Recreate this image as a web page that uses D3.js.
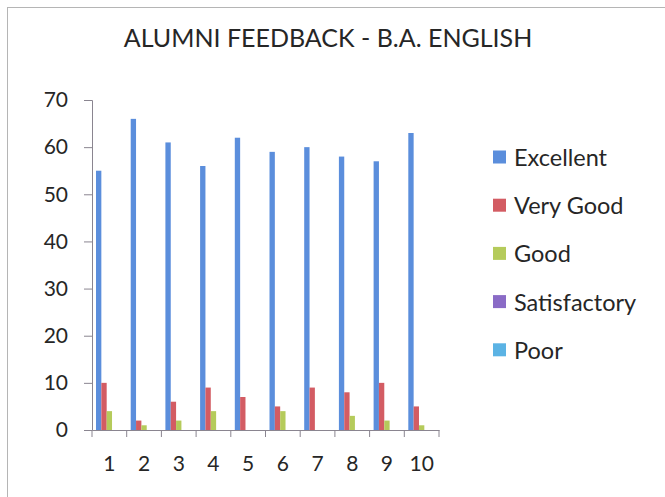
<!DOCTYPE html>
<html>
<head>
<meta charset="utf-8">
<script src="https://cdn.jsdelivr.net/npm/d3@7"></script>
<style>
  html, body { margin: 0; padding: 0; background: #fff; }
  svg { display: block; }
  text { font-family: Lato, "Open Sans", sans-serif; fill: #262626; }
</style>
</head>
<body>
<svg id="chart" width="665" height="497"></svg>
<script>
const categories = ["1","2","3","4","5","6","7","8","9","10"];
const seriesNames = ["Excellent","Very Good","Good","Satisfactory","Poor"];
const excellent    = [55, 66, 61, 56, 62, 59, 60, 58, 57, 63];
const veryGood     = [10, 2, 6, 9, 7, 5, 9, 8, 10, 5];
const good         = [4, 1, 2, 4, 0, 4, 0, 3, 2, 1];
const satisfactory = [0, 0, 0, 0, 0, 0, 0, 0, 0, 0];
const poor         = [0, 0, 0, 0, 0, 0, 0, 0, 0, 0];
const yTicks = [0, 10, 20, 30, 40, 50, 60, 70];
const title = "ALUMNI FEEDBACK - B.A. ENGLISH";
const colors = ["#5b8edc", "#d35c63", "#b5cb5b", "#8a6bc6", "#5bb3e4"];

const seriesValues = [excellent, veryGood, good, satisfactory, poor];

const svg = d3.select("#chart");

// outer chart border (right and bottom edges fall outside the picture)
svg.append("rect").attr("x", 7.5).attr("y", 7.5).attr("width", 680).attr("height", 500)
  .attr("fill", "none").attr("stroke", "#b5b5b5").attr("stroke-width", 1);

svg.append("text").attr("x", 328).attr("y", 37).attr("text-anchor", "middle")
  .attr("dominant-baseline", "central").style("font-size", "25px").text(title);

const plot = { left: 92, right: 439, top: 100, bottom: 430 };

const x0 = d3.scaleBand().domain(categories).range([plot.left, plot.right]).padding(0);
const x1 = d3.scaleBand().domain(seriesNames)
  .range([0, x0.bandwidth()]).paddingInner(0).paddingOuter(0.75);
const y = d3.scaleLinear().domain([0, 70]).range([plot.bottom, plot.top]);

// bars
const groups = svg.append("g").selectAll("g").data(categories).join("g")
  .attr("transform", d => `translate(${x0(d)},0)`);
groups.selectAll("rect")
  .data((c, i) => seriesNames.map((s, k) => ({ s, k, v: seriesValues[k][i] })))
  .join("rect")
  .attr("x", d => x1(d.s))
  .attr("width", x1.bandwidth())
  .attr("y", d => y(d.v))
  .attr("height", d => plot.bottom - y(d.v))
  .attr("fill", d => colors[d.k]);

// y axis
const yAxis = d3.axisLeft(y).tickValues(yTicks).tickSize(8).tickPadding(16);
const gy = svg.append("g").attr("transform", `translate(${plot.left},0)`).call(yAxis);
gy.select(".domain").attr("stroke", "#8a8590");
gy.selectAll(".tick line").attr("stroke", "#8a8590");
gy.selectAll(".tick text").style("font-size", "21px").attr("fill", "#262626")
  .style("font-family", "Lato, sans-serif");

// x axis
const xAxis = d3.axisBottom(x0).tickSize(0).tickPadding(26);
const gx = svg.append("g").attr("transform", `translate(0,${plot.bottom})`).call(xAxis);
gx.select(".domain").attr("stroke", "#8a8590");
gx.selectAll(".tick text").style("font-size", "21px").attr("fill", "#262626")
  .style("font-family", "Lato, sans-serif");
// category boundary ticks
const bounds = categories.map(c => x0(c)).concat([plot.right]);
gx.selectAll("line.bound").data(bounds).join("line").attr("class", "bound")
  .attr("x1", d => d).attr("x2", d => d).attr("y1", 0).attr("y2", 7)
  .attr("stroke", "#8a8590");

// legend
const legend = svg.append("g").selectAll("g").data(seriesNames).join("g")
  .attr("transform", (d, i) => `translate(493,${157 + i * 48.2})`);
legend.append("rect").attr("x", 0).attr("y", -6.5).attr("width", 13).attr("height", 13)
  .attr("fill", (d, i) => colors[i]);
legend.append("text").attr("x", 21).attr("y", 0).attr("dominant-baseline", "central")
  .style("font-size", "23.5px").text(d => d);
</script>
</body>
</html>
